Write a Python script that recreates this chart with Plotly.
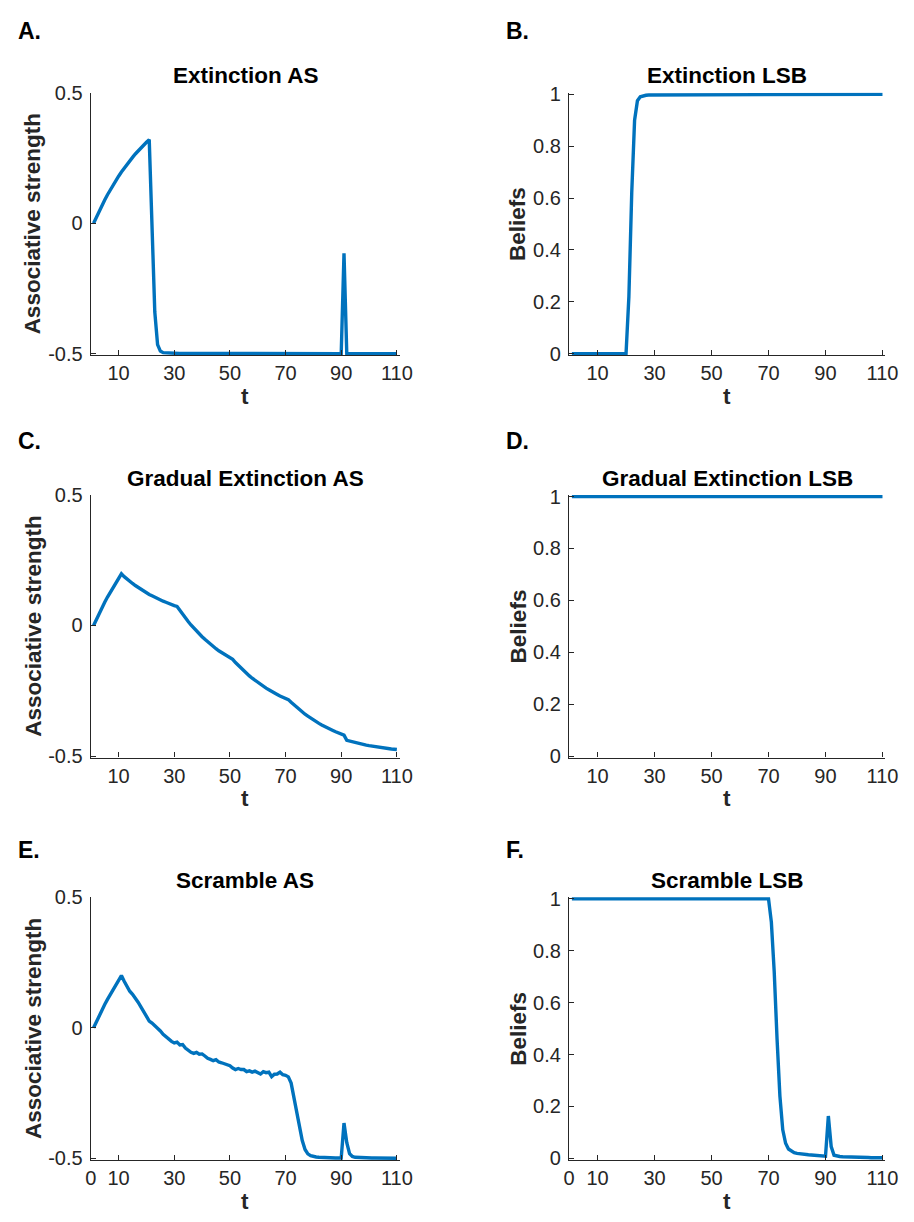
import plotly.graph_objects as go

W, H = 914, 1222

t = list(range(1, 111))

ext_as = [
    0.000, 0.024, 0.047, 0.068, 0.089, 0.109, 0.128, 0.146, 0.164, 0.180,
    0.196, 0.211, 0.225, 0.239, 0.252, 0.265, 0.277, 0.288, 0.299, 0.310,
    0.320, -0.060, -0.340, -0.465, -0.490, -0.496, -0.497, -0.498, -0.498, -0.499,
    -0.499, -0.499, -0.499, -0.499, -0.499, -0.499, -0.499, -0.499, -0.499, -0.499,
    -0.500, -0.500, -0.500, -0.500, -0.500, -0.500, -0.500, -0.500, -0.500, -0.500,
    -0.500, -0.500, -0.500, -0.500, -0.500, -0.500, -0.500, -0.500, -0.500, -0.500,
    -0.500, -0.500, -0.500, -0.500, -0.500, -0.500, -0.500, -0.500, -0.500, -0.500,
    -0.500, -0.500, -0.500, -0.500, -0.500, -0.500, -0.500, -0.500, -0.500, -0.500,
    -0.500, -0.500, -0.500, -0.500, -0.500, -0.500, -0.500, -0.500, -0.500, -0.500,
    -0.115, -0.500, -0.500, -0.500, -0.500, -0.500, -0.500, -0.500, -0.500, -0.500,
    -0.500, -0.500, -0.500, -0.500, -0.500, -0.500, -0.500, -0.500, -0.500, -0.500,
]

ext_lsb = [
    0.000, 0.000, 0.000, 0.000, 0.000, 0.000, 0.000, 0.000, 0.000, 0.000,
    0.000, 0.000, 0.000, 0.000, 0.000, 0.000, 0.000, 0.000, 0.000, 0.000,
    0.220, 0.620, 0.900, 0.975, 0.990, 0.994, 0.996, 0.997, 0.997, 0.998,
    0.998, 0.998, 0.998, 0.999, 0.999, 0.999, 0.999, 0.999, 0.999, 0.999,
    1.000, 1.000, 1.000, 1.000, 1.000, 1.000, 1.000, 1.000, 1.000, 1.000,
    1.000, 1.000, 1.000, 1.000, 1.000, 1.000, 1.000, 1.000, 1.000, 1.000,
    1.000, 1.000, 1.000, 1.000, 1.000, 1.000, 1.000, 1.000, 1.000, 1.000,
    1.000, 1.000, 1.000, 1.000, 1.000, 1.000, 1.000, 1.000, 1.000, 1.000,
    1.000, 1.000, 1.000, 1.000, 1.000, 1.000, 1.000, 1.000, 1.000, 1.000,
    1.000, 1.000, 1.000, 1.000, 1.000, 1.000, 1.000, 1.000, 1.000, 1.000,
    1.000, 1.000, 1.000, 1.000, 1.000, 1.000, 1.000, 1.000, 1.000, 1.000,
]

grad_as = [
    0.000, 0.024, 0.047, 0.068, 0.089, 0.109, 0.128, 0.146, 0.164, 0.180,
    0.198, 0.187, 0.177, 0.169, 0.161, 0.153, 0.146, 0.138, 0.132, 0.125,
    0.119, 0.114, 0.108, 0.103, 0.098, 0.093, 0.089, 0.084, 0.080, 0.076,
    0.073, 0.057, 0.042, 0.028, 0.015, 0.002, -0.010, -0.022, -0.033, -0.043,
    -0.053, -0.063, -0.072, -0.081, -0.089, -0.097, -0.104, -0.111, -0.118, -0.124,
    -0.130, -0.142, -0.153, -0.164, -0.174, -0.184, -0.193, -0.202, -0.210, -0.218,
    -0.226, -0.233, -0.240, -0.246, -0.253, -0.259, -0.264, -0.270, -0.275, -0.280,
    -0.284, -0.294, -0.304, -0.314, -0.323, -0.331, -0.340, -0.347, -0.355, -0.362,
    -0.368, -0.375, -0.381, -0.387, -0.392, -0.397, -0.402, -0.407, -0.412, -0.416,
    -0.420, -0.440, -0.443, -0.446, -0.448, -0.451, -0.453, -0.455, -0.458, -0.460,
    -0.462, -0.463, -0.465, -0.467, -0.469, -0.470, -0.471, -0.473, -0.474, -0.475,
]

grad_lsb = [
    1.000, 1.000, 1.000, 1.000, 1.000, 1.000, 1.000, 1.000, 1.000, 1.000,
    1.000, 1.000, 1.000, 1.000, 1.000, 1.000, 1.000, 1.000, 1.000, 1.000,
    1.000, 1.000, 1.000, 1.000, 1.000, 1.000, 1.000, 1.000, 1.000, 1.000,
    1.000, 1.000, 1.000, 1.000, 1.000, 1.000, 1.000, 1.000, 1.000, 1.000,
    1.000, 1.000, 1.000, 1.000, 1.000, 1.000, 1.000, 1.000, 1.000, 1.000,
    1.000, 1.000, 1.000, 1.000, 1.000, 1.000, 1.000, 1.000, 1.000, 1.000,
    1.000, 1.000, 1.000, 1.000, 1.000, 1.000, 1.000, 1.000, 1.000, 1.000,
    1.000, 1.000, 1.000, 1.000, 1.000, 1.000, 1.000, 1.000, 1.000, 1.000,
    1.000, 1.000, 1.000, 1.000, 1.000, 1.000, 1.000, 1.000, 1.000, 1.000,
    1.000, 1.000, 1.000, 1.000, 1.000, 1.000, 1.000, 1.000, 1.000, 1.000,
    1.000, 1.000, 1.000, 1.000, 1.000, 1.000, 1.000, 1.000, 1.000, 1.000,
]

scr_as = [
    0.000, 0.024, 0.047, 0.068, 0.089, 0.109, 0.128, 0.146, 0.164, 0.180,
    0.200, 0.178, 0.158, 0.140, 0.128, 0.115, 0.098, 0.080, 0.062, 0.042,
    0.026, 0.018, 0.008, 0.000, -0.012, -0.025, -0.035, -0.045, -0.052, -0.058,
    -0.055, -0.066, -0.064, -0.078, -0.088, -0.094, -0.098, -0.094, -0.101, -0.100,
    -0.108, -0.117, -0.121, -0.126, -0.122, -0.131, -0.134, -0.137, -0.141, -0.145,
    -0.154, -0.160, -0.156, -0.160, -0.160, -0.168, -0.165, -0.170, -0.166, -0.172,
    -0.177, -0.168, -0.172, -0.170, -0.187, -0.178, -0.177, -0.170, -0.180, -0.182,
    -0.188, -0.212, -0.265, -0.325, -0.385, -0.432, -0.466, -0.483, -0.490, -0.494,
    -0.495, -0.496, -0.497, -0.497, -0.498, -0.498, -0.498, -0.499, -0.499, -0.499,
    -0.365, -0.440, -0.482, -0.493, -0.496, -0.497, -0.498, -0.498, -0.499, -0.499,
    -0.499, -0.499, -0.499, -0.500, -0.500, -0.500, -0.500, -0.500, -0.500, -0.500,
]

scr_lsb = [
    1.000, 1.000, 1.000, 1.000, 1.000, 1.000, 1.000, 1.000, 1.000, 1.000,
    1.000, 1.000, 1.000, 1.000, 1.000, 1.000, 1.000, 1.000, 1.000, 1.000,
    1.000, 1.000, 1.000, 1.000, 1.000, 1.000, 1.000, 1.000, 1.000, 1.000,
    1.000, 1.000, 1.000, 1.000, 1.000, 1.000, 1.000, 1.000, 1.000, 1.000,
    1.000, 1.000, 1.000, 1.000, 1.000, 1.000, 1.000, 1.000, 1.000, 1.000,
    1.000, 1.000, 1.000, 1.000, 1.000, 1.000, 1.000, 1.000, 1.000, 1.000,
    1.000, 1.000, 1.000, 1.000, 1.000, 1.000, 1.000, 1.000, 1.000, 1.000,
    0.910, 0.720, 0.460, 0.240, 0.110, 0.058, 0.036, 0.027, 0.022, 0.019,
    0.017, 0.016, 0.015, 0.014, 0.013, 0.012, 0.011, 0.010, 0.009, 0.008,
    0.163, 0.045, 0.012, 0.008, 0.007, 0.006, 0.006, 0.005, 0.005, 0.004,
    0.004, 0.004, 0.003, 0.003, 0.003, 0.002, 0.002, 0.002, 0.002, 0.002,
]

titles = ["Extinction AS", "Extinction LSB",
          "Gradual Extinction AS", "Gradual Extinction LSB",
          "Scramble AS", "Scramble LSB"]
letters = ["A.", "B.", "C.", "D.", "E.", "F."]
series = [ext_as, ext_lsb, grad_as, grad_lsb, scr_as, scr_lsb]

xticks_top = [10, 30, 50, 70, 90, 110]
xticks_bottom = [0, 10, 30, 50, 70, 90, 110]
as_ticks = [-0.5, 0, 0.5]
as_labels = ["-0.5", "0", "0.5"]
lsb_ticks = [0, 0.2, 0.4, 0.6, 0.8, 1]
lsb_labels = ["0", "0.2", "0.4", "0.6", "0.8", "1"]

FONT = "Liberation Sans, Arial, Helvetica, sans-serif"
AXC = "#262626"
LINEC = "#0072BD"
TICK_SIZE = 20
LABEL_SIZE = 22.5

# pixel layout
col_x = [(86.6, 402.0), (575.0, 898.0)]
row_y = [(83.0, 350.0), (492.0, 759.0), (901.0, 1168.0)]
title_y = [66, 475, 884]
letter_y = [20, 437, 853]
letter_x = [10, 509]
tlabel_y = [392, 801, 1210]
ylab_x = [28, 523]

def px(x):
    return x / W

def py(y):
    return 1 - y / H

fig = go.Figure()
layout = dict(
    width=W, height=H,
    margin=dict(l=0, r=0, t=0, b=0),
    paper_bgcolor="white", plot_bgcolor="white",
    showlegend=False,
    font=dict(family=FONT, color=AXC),
)
annotations = []

for i in range(6):
    r, c = divmod(i, 2)
    ax = "" if i == 0 else str(i + 1)
    x0, x1 = col_x[c]
    y0, y1 = row_y[r]
    is_as = (c == 0)
    xt = xticks_bottom if r == 2 else xticks_top
    if is_as:
        yrng = [-0.506, 0.5]
        yt, yl = as_ticks, as_labels
    else:
        yrng = [-0.006, 1.006]
        yt, yl = lsb_ticks, lsb_labels
    layout["xaxis" + ax] = dict(
        domain=[px(x0), px(x1)], anchor="y" + ax, range=[0, 111],
        tickvals=xt, ticktext=[str(v) for v in xt],
        ticks="inside", ticklen=5, tickwidth=1.2, tickcolor=AXC,
        showline=True, linecolor=AXC, linewidth=1.4,
        showgrid=False, zeroline=False,
        tickfont=dict(family=FONT, size=TICK_SIZE, color=AXC),
    )
    layout["yaxis" + ax] = dict(
        domain=[py(y1), py(y0)], anchor="x" + ax, range=yrng,
        tickvals=yt, ticktext=yl,
        ticks="inside", ticklen=5, tickwidth=1.2, tickcolor=AXC,
        showline=True, linecolor=AXC, linewidth=1.4,
        showgrid=False, zeroline=False, ticklabelstandoff=3,
        tickfont=dict(family=FONT, size=TICK_SIZE, color=AXC),
    )
    fig.add_trace(go.Scatter(
        x=t, y=series[i], mode="lines",
        line=dict(color=LINEC, width=3.4),
        xaxis="x" + ax, yaxis="y" + ax, hoverinfo="skip",
    ))
    cx = px((x0 + x1) / 2)
    annotations.append(dict(
        text="<b>" + titles[i] + "</b>", x=cx, y=py(title_y[r]),
        xref="paper", yref="paper", xanchor="center", yanchor="middle",
        showarrow=False, font=dict(family=FONT, size=LABEL_SIZE, color="black"),
    ))
    annotations.append(dict(
        text="<b>" + letters[i] + "</b>", x=px(letter_x[c]), y=py(letter_y[r]),
        xref="paper", yref="paper", xanchor="left", yanchor="middle",
        showarrow=False, font=dict(family=FONT, size=23, color="black"),
    ))
    annotations.append(dict(
        text="<b>t</b>", x=cx, y=py(tlabel_y[r]),
        xref="paper", yref="paper", xanchor="center", yanchor="middle",
        showarrow=False, font=dict(family=FONT, size=LABEL_SIZE, color=AXC),
    ))
    annotations.append(dict(
        text="<b>" + ("Associative strength" if is_as else "Beliefs") + "</b>",
        x=px(ylab_x[c]), y=py((y0 + y1) / 2), textangle=-90,
        xref="paper", yref="paper", xanchor="center", yanchor="middle",
        showarrow=False, font=dict(family=FONT, size=LABEL_SIZE, color=AXC),
    ))

layout["annotations"] = annotations
fig.update_layout(**layout)
fig.write_html("out.html")
